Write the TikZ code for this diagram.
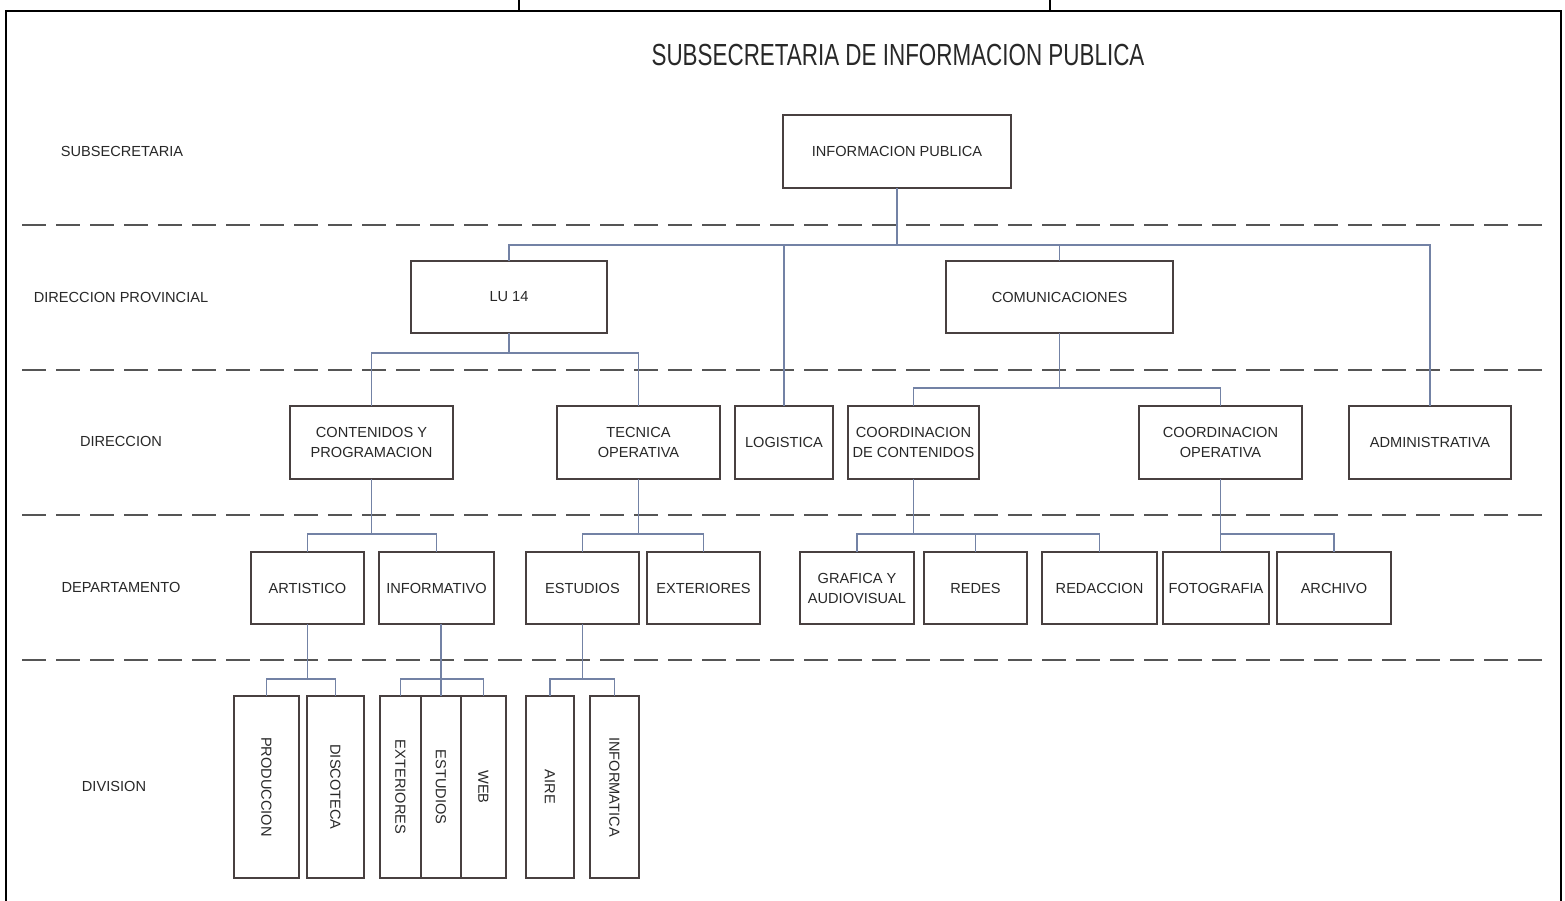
\documentclass[tikz,border=0pt]{standalone}
\usepackage{fontspec}
\usepackage{graphicx}
\setmainfont{Liberation Sans}
\definecolor{boxc}{RGB}{72,64,64}
\definecolor{connc}{RGB}{115,130,165}
\definecolor{dashc}{RGB}{85,85,85}
\definecolor{txtc}{RGB}{40,40,40}
\tikzset{
  unit/.style={draw=boxc, line width=2.2pt, fill=white, inner sep=2pt, outer sep=0pt,
    align=center, text=txtc, font=\fontsize{14.6}{20}\selectfont},
  conn/.style={draw=connc, line width=1.6pt},
  sep/.style={draw=dashc, line width=2pt, dash pattern=on 24pt off 10pt},
  rowlab/.style={text=txtc, font=\fontsize{14.6}{18}\selectfont, inner sep=0pt},
  frameline/.style={draw=black, line width=2.4pt},
}
\newcommand{\bx}[6]{\node[unit, minimum width={#4-#2}, minimum height={#5-#3}] (#1) at ({(#2+#4)/2},{(#3+#5)/2}) {#6};}
\newcommand{\vbx}[6]{\node[unit, minimum width={#4-#2}, minimum height={#5-#3}] (#1) at ({(#2+#4)/2},{(#3+#5)/2}) {\rotatebox{-90}{#6}};}
\begin{document}
\begin{tikzpicture}[x=1pt,y=-1pt]
\useasboundingbox (0,0) rectangle (1565,901);
\fill[white] (0,0) rectangle (1565,901);
% frame
\draw[frameline] (6,910) -- (6,11) -- (1561,11) -- (1561,910);
\draw[black, line width=1.5pt] (519,0) -- (519,11);
\draw[black, line width=1.5pt] (1050,0) -- (1050,11);
% title
\node[text=txtc, inner sep=0pt] (title) at (898,55) {\scalebox{0.735}[1]{\fontsize{30.5}{34}\selectfont SUBSECRETARIA DE INFORMACION PUBLICA}};
% separators
\foreach \yy in {225,370,515,660} {\draw[sep] (22,\yy) -- (1545,\yy);}
% row labels
\node[rowlab] (l1) at (122,151) {SUBSECRETARIA};
\node[rowlab] (l2) at (121,297) {DIRECCION PROVINCIAL};
\node[rowlab] (l3) at (121,441) {DIRECCION};
\node[rowlab] (l4) at (121,587) {DEPARTAMENTO};
\node[rowlab] (l5) at (114,786) {DIVISION};
% boxes
\bx{ip}{783}{115}{1011}{188}{INFORMACION PUBLICA}
\bx{lu}{411}{261}{607}{333}{LU 14}
\bx{com}{946}{261}{1173}{333}{COMUNICACIONES}
\bx{cyp}{290}{406}{453}{479}{CONTENIDOS Y\\PROGRAMACION}
\bx{tec}{557}{406}{720}{479}{TECNICA\\OPERATIVA}
\bx{log}{735}{406}{833}{479}{LOGISTICA}
\bx{cdc}{848}{406}{979}{479}{COORDINACION\\DE CONTENIDOS}
\bx{cop}{1139}{406}{1302}{479}{COORDINACION\\OPERATIVA}
\bx{adm}{1349}{406}{1511}{479}{ADMINISTRATIVA}
\bx{art}{251}{552}{364}{624}{ARTISTICO}
\bx{inf}{379}{552}{494}{624}{INFORMATIVO}
\bx{est}{526}{552}{639}{624}{ESTUDIOS}
\bx{ext}{647}{552}{760}{624}{EXTERIORES}
\bx{gra}{800}{552}{914}{624}{GRAFICA Y\\AUDIOVISUAL}
\bx{red}{924}{552}{1027}{624}{REDES}
\bx{rdc}{1042}{552}{1157}{624}{REDACCION}
\bx{fot}{1163}{552}{1269}{624}{FOTOGRAFIA}
\bx{arc}{1277}{552}{1391}{624}{ARCHIVO}
\vbx{pro}{234}{696}{299}{878}{PRODUCCION}
\vbx{dis}{307}{696}{364}{878}{DISCOTECA}
\vbx{dext}{380}{696}{421}{878}{EXTERIORES}
\vbx{dest}{421}{696}{461}{878}{ESTUDIOS}
\vbx{web}{461}{696}{506}{878}{WEB}
\vbx{air}{526}{696}{574}{878}{AIRE}
\vbx{itc}{590}{696}{639}{878}{INFORMATICA}
% bus coordinates
\coordinate (bA) at (0,245);
\coordinate (bB) at (0,353);
\coordinate (bC) at (0,388);
\coordinate (bD) at (0,534);
\coordinate (bE) at (0,679);
% level 1
\draw[conn] (ip.south) -- (ip.south |- bA);
\draw[conn] (lu.north) -- (lu.north |- bA) -- (adm.north |- bA) -- (adm.north);
\draw[conn] (log.north) -- (log.north |- bA);
\draw[conn] (com.north) -- (com.north |- bA);
% LU 14
\draw[conn] (lu.south) -- (lu.south |- bB);
\draw[conn] (cyp.north) -- (cyp.north |- bB) -- (tec.north |- bB) -- (tec.north);
% COMUNICACIONES
\draw[conn] (com.south) -- (com.south |- bC);
\draw[conn] (cdc.north) -- (cdc.north |- bC) -- (cop.north |- bC) -- (cop.north);
% CONTENIDOS Y PROGRAMACION
\draw[conn] (cyp.south) -- (cyp.south |- bD);
\draw[conn] (art.north) -- (art.north |- bD) -- (inf.north |- bD) -- (inf.north);
% TECNICA OPERATIVA
\draw[conn] (tec.south) -- (tec.south |- bD);
\draw[conn] (est.north) -- (est.north |- bD) -- (ext.north |- bD) -- (ext.north);
% COORDINACION DE CONTENIDOS
\draw[conn] (cdc.south) -- (cdc.south |- bD);
\draw[conn] (gra.north) -- (gra.north |- bD) -- (rdc.north |- bD) -- (rdc.north);
\draw[conn] (red.north) -- (red.north |- bD);
% COORDINACION OPERATIVA
\draw[conn] (cop.south) -- (cop.south |- fot.north);
\draw[conn] (cop.south |- bD) -- (arc.north |- bD) -- (arc.north);
% ARTISTICO
\draw[conn] (art.south) -- (art.south |- bE);
\draw[conn] (pro.north) -- (pro.north |- bE) -- (dis.north |- bE) -- (dis.north);
% INFORMATIVO
\draw[conn] (dest.north |- inf.south) -- (dest.north);
\draw[conn] (dext.north) -- (dext.north |- bE) -- (web.north |- bE) -- (web.north);
% ESTUDIOS
\draw[conn] (est.south) -- (est.south |- bE);
\draw[conn] (air.north) -- (air.north |- bE) -- (itc.north |- bE) -- (itc.north);
\end{tikzpicture}
\end{document}
